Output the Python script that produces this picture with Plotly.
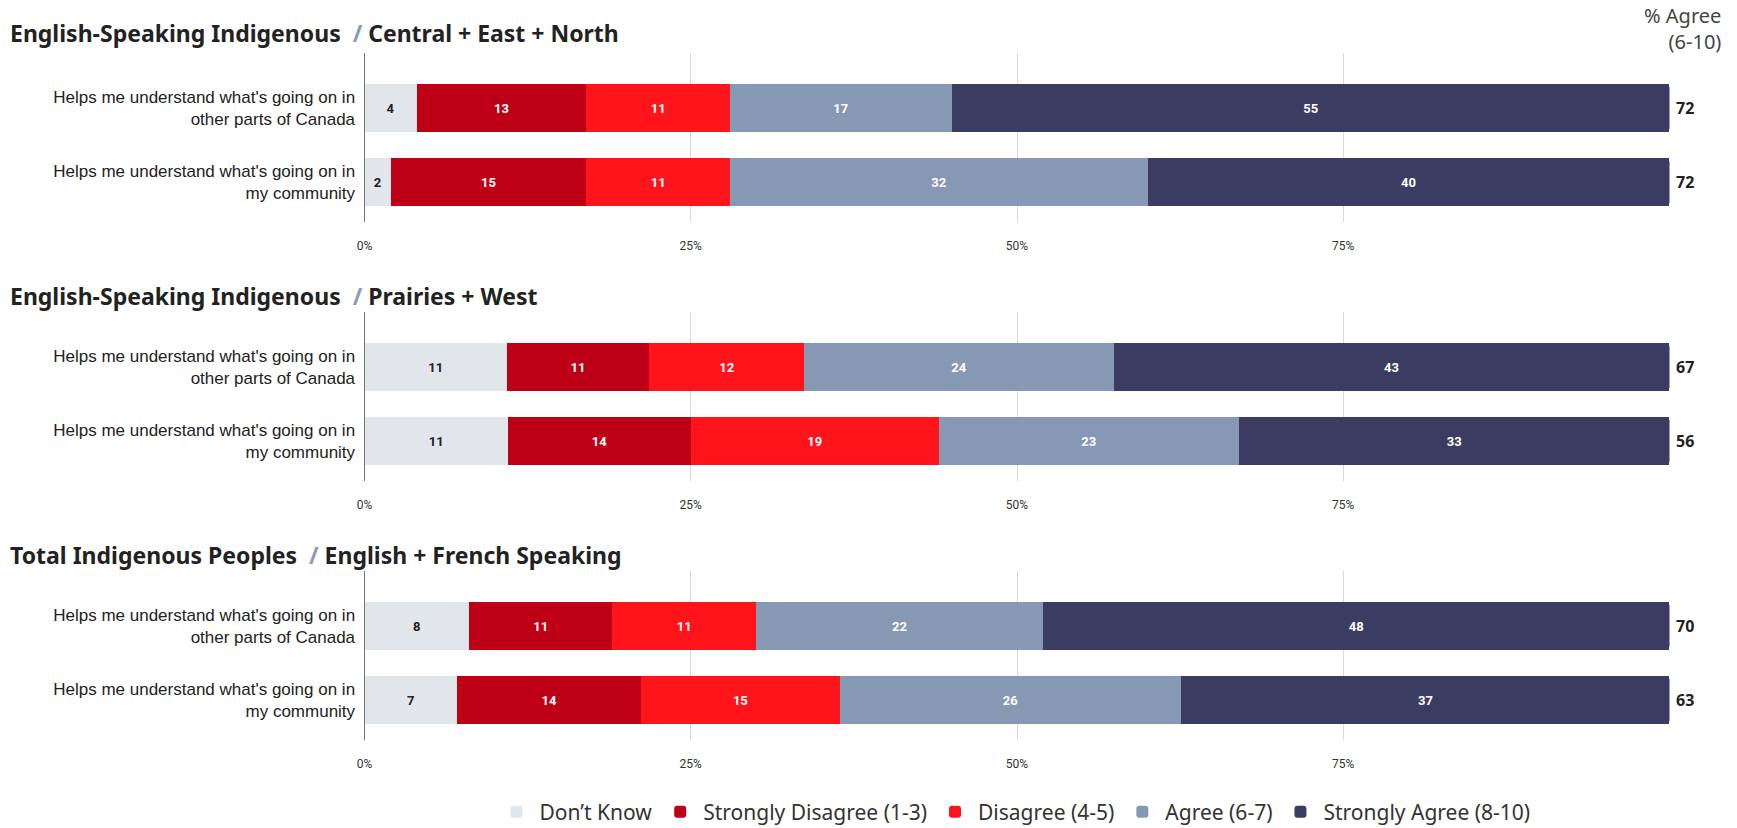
import plotly.graph_objects as go

# ---------------- data ----------------
categories = [
    "Helps me understand what's going on in<br>other parts of Canada",
    "Helps me understand what's going on in<br>my community",
]
series_names = ["Don’t Know", "Strongly Disagree (1-3)", "Disagree (4-5)", "Agree (6-7)", "Strongly Agree (8-10)"]

panel_titles_main = ["English-Speaking Indigenous", "English-Speaking Indigenous", "Total Indigenous Peoples"]
panel_titles_sub = ["Central + East + North", "Prairies + West", "English + French Speaking"]

# values per panel: [row other parts, row my community]
p1_dont_know = [4, 2]
p1_strong_dis = [13, 15]
p1_disagree = [11, 11]
p1_agree = [17, 32]
p1_strong_agree = [55, 40]
p1_pct_agree = [72, 72]

p2_dont_know = [10.9, 11]
p2_strong_dis = [10.9, 14]
p2_disagree = [11.9, 19]
p2_agree = [23.7, 23]
p2_strong_agree = [42.6, 33]
p2_pct_agree = [67, 56]

p3_dont_know = [8, 7.1]
p3_strong_dis = [11, 14.1]
p3_disagree = [11, 15.2]
p3_agree = [22, 26.2]
p3_strong_agree = [48, 37.4]
p3_pct_agree = [70, 63]

tick_vals = [0, 25, 50, 75, 100]
tick_text = ["0%", "25%", "50%", "75%", ""]

# ---------------- style ----------------
colors = ["#e0e6ea", "#bd0016", "#ff141c", "#8798b5", "#3a3c62"]
text_colors = ["#222222", "#ffffff", "#ffffff", "#ffffff", "#ffffff"]
W, H = 1737, 828
x_dom = [364.5 / W, 1669.5 / W]
panel_px = [(53, 222), (312, 481), (571, 740)]
title_px = [33, 296, 555]

panels = [
    [p1_dont_know, p1_strong_dis, p1_disagree, p1_agree, p1_strong_agree, p1_pct_agree],
    [p2_dont_know, p2_strong_dis, p2_disagree, p2_agree, p2_strong_agree, p2_pct_agree],
    [p3_dont_know, p3_strong_dis, p3_disagree, p3_agree, p3_strong_agree, p3_pct_agree],
]

fig = go.Figure()
annotations = []
layout_axes = {}

for pi, pdata in enumerate(panels):
    sfx = "" if pi == 0 else str(pi + 1)
    xa, ya = "x" + sfx, "y" + sfx
    for si in range(5):
        fig.add_trace(go.Bar(
            y=categories, x=pdata[si], orientation="h",
            name=series_names[si], legendgroup=series_names[si],
            showlegend=(pi == 0),
            marker=dict(color=colors[si], line=dict(width=0)),
            text=[f"{v:.0f}" for v in pdata[si]],
            textposition="inside", insidetextanchor="middle",
            textangle=0, constraintext="none",
            textfont=dict(family="Roboto", size=13, color=text_colors[si], weight="bold"),
            width=0.66, xaxis=xa, yaxis=ya, hoverinfo="skip",
        ))
    top, bot = panel_px[pi]
    dom = [1 - bot / H, 1 - top / H]
    c0 = [108, 367, 626][pi]
    r_top = -(c0 - top) / 74.0
    r_bot = 1 + (bot - (c0 + 74)) / 74.0
    layout_axes["xaxis" + sfx] = dict(
        domain=x_dom, range=[0, 100], anchor=ya,
        tickvals=tick_vals, ticktext=tick_text,
        showgrid=True, gridcolor="#d9d9d9", gridwidth=1,
        zeroline=False, showline=False, ticks="",
        ticklabelstandoff=15, automargin=False,
        tickfont=dict(family="Roboto", size=12, color="#333333"),
        fixedrange=True,
    )
    layout_axes["yaxis" + sfx] = dict(
        domain=dom, anchor=xa, type="category",
        categoryorder="array", categoryarray=categories,
        range=[r_bot, r_top],
        showline=True, linecolor="#777777", linewidth=1,
        showgrid=False, ticks="", ticklabelstandoff=5, automargin=False,
        tickfont=dict(family="Liberation Sans", size=17, color="#222222"),
        fixedrange=True,
    )
    annotations.append(dict(
        xref="paper", yref="paper", x=8 / W, y=1 - title_px[pi] / H,
        xanchor="left", yanchor="middle", showarrow=False,
        text=(f"{panel_titles_main[pi]}  <span style='color:#8a9bb8'>/</span> "
              f"{panel_titles_sub[pi]}"),
        font=dict(family="Noto Sans", size=23, color="#222222", weight="bold"),
    ))
    for ci, cat in enumerate(categories):
        annotations.append(dict(
            xref="paper", yref=ya, x=1685 / W, y=cat,
            xanchor="center", yanchor="middle", showarrow=False,
            text=f"<b>{pdata[5][ci]}</b>",
            font=dict(family="Noto Sans", size=16, color="#222222"),
        ))

annotations.append(dict(
    xref="paper", yref="paper", x=1723 / W, y=1 - 0 / H,
    xanchor="right", yanchor="top", showarrow=False, align="right",
    text="% Agree<br>(6-10)",
    font=dict(family="Noto Sans", size=20, color="#444444"),
))

fig.update_layout(
    width=W, height=H,
    margin=dict(l=0, r=0, t=0, b=0, autoexpand=False),
    paper_bgcolor="white", plot_bgcolor="white",
    barmode="stack", barcornerradius=3,
    showlegend=True,
    legend=dict(orientation="h", x=0.584, xanchor="center", y=1 - 812 / H, yanchor="middle",
                font=dict(family="Noto Sans", size=21, color="#333333"),
                itemwidth=36,
                traceorder="normal", itemclick=False, itemdoubleclick=False),
    annotations=annotations,
    **layout_axes,
)

fig.write_html("out.html")
